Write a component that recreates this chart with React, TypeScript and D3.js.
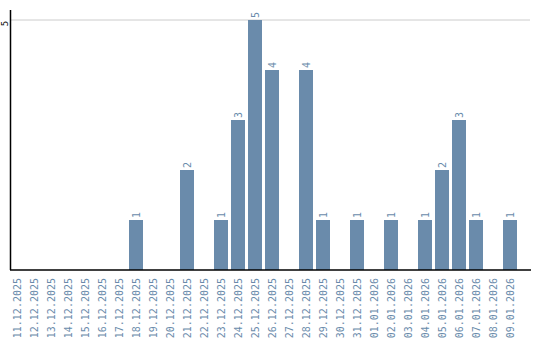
import React from "react";
import * as d3 from "d3";

const categories: string[] = [
  "11.12.2025", "12.12.2025", "13.12.2025", "14.12.2025", "15.12.2025",
  "16.12.2025", "17.12.2025", "18.12.2025", "19.12.2025", "20.12.2025",
  "21.12.2025", "22.12.2025", "23.12.2025", "24.12.2025", "25.12.2025",
  "26.12.2025", "27.12.2025", "28.12.2025", "29.12.2025", "30.12.2025",
  "31.12.2025", "01.01.2026", "02.01.2026", "03.01.2026", "04.01.2026",
  "05.01.2026", "06.01.2026", "07.01.2026", "08.01.2026", "09.01.2026",
];
const values: number[] = [
  0, 0, 0, 0, 0, 0, 0, 1, 0, 0,
  2, 0, 1, 3, 5, 4, 0, 4, 1, 0,
  1, 0, 1, 0, 1, 2, 3, 1, 0, 1,
];
const yTicks: number[] = [5];

const W = 540;
const H = 340;
const barColor = "#6a8bab";
const font = "'DejaVu Sans Mono', monospace";

export default function App() {
  const x = d3
    .scaleBand<string>()
    .domain(categories)
    .range([10, 517])
    .paddingInner(3 / 17)
    .paddingOuter(0)
    .align(0);
  const y = d3.scaleLinear().domain([0, 5]).range([270, 20]);

  return (
    <svg
      width={W}
      height={H}
      style={{ position: "absolute", left: 0, top: 0 }}
      fontFamily={font}
    >
      {yTicks.map((t) => (
        <g key={t}>
          <line x1={10} x2={530} y1={y(t)} y2={y(t)} stroke="#cccccc" strokeWidth={1} />
          <text
            transform={`translate(7.5,${y(t) + 3.5}) rotate(-90)`}
            textAnchor="middle"
            fontSize={9}
            fill="#000"
          >
            {t}
          </text>
        </g>
      ))}
      {categories.map((c, i) =>
        values[i] > 0 ? (
          <g key={c}>
            <rect
              x={x(c)}
              y={y(values[i])}
              width={x.bandwidth()}
              height={y(0) - y(values[i])}
              fill={barColor}
            />
            <text
              transform={`translate(${(x(c) as number) + x.bandwidth() / 2 + 3.5},${y(values[i]) - 2}) rotate(-90)`}
              textAnchor="start"
              fontSize={10}
              fill={barColor}
            >
              {values[i]}
            </text>
          </g>
        ) : null
      )}
      <line x1={10.5} x2={10.5} y1={10} y2={270} stroke="#000" strokeWidth={1.5} />
      <line x1={10} x2={531} y1={270} y2={270} stroke="#000" strokeWidth={1.5} />
      {categories.map((c) => (
        <text
          key={"l" + c}
          transform={`translate(${(x(c) as number) + x.bandwidth() / 2 + 3.5},278) rotate(-90)`}
          textAnchor="end"
          fontSize={10}
          fill={barColor}
        >
          {c}
        </text>
      ))}
    </svg>
  );
}
